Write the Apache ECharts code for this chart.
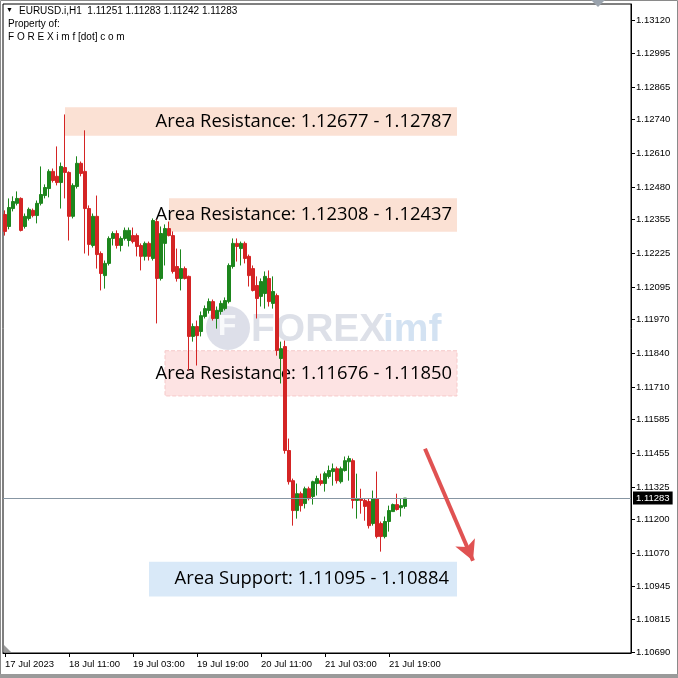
<!DOCTYPE html>
<html><head><meta charset="utf-8">
<script src="https://cdn.jsdelivr.net/npm/echarts@6/dist/echarts.min.js"></script>
<style>html,body{margin:0;padding:0;background:#fff}#c{width:678px;height:678px}</style>
</head><body><div id="c"></div>
<script>
// ---------- data ----------
const symbolName = 'EURUSD.i,H1';
const barSlots = 157;                 // H1 slots visible on the axis (data fills the first 101)
const tickEvery = 16;
const tickLabels = ['17 Jul 2023','18 Jul 11:00','19 Jul 03:00','19 Jul 19:00','20 Jul 11:00','21 Jul 03:00','21 Jul 19:00'];
const yTickValues = [1.13120,1.12995,1.12865,1.12740,1.12610,1.12480,1.12355,1.12225,1.12095,1.11970,1.11840,1.11710,1.11585,1.11455,1.11325,1.11200,1.11070,1.10945,1.10815,1.10690];
const currentPrice = 1.11283;

const opens = [1.12374,1.12328,1.12397,1.12417,1.12436,1.12328,1.12359,1.12390,1.12370,1.12417,
1.12447,1.12474,1.12540,1.12521,1.12497,1.12555,1.12536,1.12367,1.12482,1.12571,
1.12540,1.12397,1.12255,1.12367,1.12224,1.12139,1.12186,1.12282,1.12301,1.12255,
1.12282,1.12274,1.12293,1.12293,1.12255,1.12213,1.12263,1.12205,1.12347,1.12128,
1.12263,1.12320,1.12293,1.12174,1.12128,1.12166,1.12136,1.11905,1.11943,1.11924,
1.11982,1.12005,1.12039,1.11974,1.12001,1.12012,1.12039,1.12174,1.12263,1.12243,
1.12263,1.12213,1.12166,1.12101,1.12059,1.12070,1.12128,1.12032,1.12062,1.11820,
1.11866,1.11466,1.11350,1.11235,1.11300,1.11262,1.11319,1.11289,1.11339,1.11350,
1.11339,1.11366,1.11385,1.11396,1.11346,1.11389,1.11423,1.11427,1.11274,1.11281,
1.11274,1.11270,1.11185,1.11281,1.11185,1.11135,1.11193,1.11231,1.11258,1.11246,
1.11251];
const closes = [1.12309,1.12401,1.12424,1.12436,1.12313,1.12367,1.12394,1.12370,1.12417,1.12451,
1.12478,1.12540,1.12505,1.12497,1.12559,1.12536,1.12367,1.12486,1.12571,1.12532,
1.12397,1.12259,1.12367,1.12220,1.12147,1.12186,1.12282,1.12301,1.12255,1.12282,
1.12313,1.12313,1.12270,1.12251,1.12213,1.12263,1.12213,1.12351,1.12128,1.12301,
1.12320,1.12293,1.12155,1.12128,1.12166,1.12128,1.11905,1.11943,1.11908,1.11985,
1.12012,1.12039,1.11974,1.12005,1.12032,1.12043,1.12178,1.12263,1.12251,1.12263,
1.12205,1.12139,1.12082,1.12051,1.12116,1.12136,1.12039,1.12078,1.11851,1.11858,
1.11466,1.11346,1.11235,1.11300,1.11254,1.11319,1.11281,1.11346,1.11358,1.11339,
1.11377,1.11389,1.11396,1.11350,1.11396,1.11427,1.11435,1.11274,1.11281,1.11274,
1.11251,1.11177,1.11281,1.11135,1.11135,1.11193,1.11235,1.11258,1.11239,1.11254,
1.11283];
const lows = [1.12293,1.12317,1.12386,1.12409,1.12309,1.12320,1.12351,1.12363,1.12340,1.12409,
1.12436,1.12440,1.12497,1.12486,1.12397,1.12436,1.12274,1.12359,1.12474,1.12521,
1.12224,1.12216,1.12247,1.12166,1.12082,1.12089,1.12178,1.12255,1.12243,1.12232,
1.12274,1.12251,1.12263,1.12213,1.12159,1.12197,1.12197,1.12197,1.11955,1.12120,
1.12178,1.12290,1.12147,1.12116,1.12082,1.12124,1.11774,1.11885,1.11793,1.11905,
1.11974,1.11993,1.11966,1.11935,1.11989,1.12005,1.12032,1.12166,1.12193,1.12178,
1.12186,1.12097,1.12078,1.11974,1.12020,1.12012,1.12020,1.12012,1.11831,1.11724,
1.11454,1.11335,1.11177,1.11204,1.11231,1.11243,1.11274,1.11258,1.11293,1.11331,
1.11308,1.11358,1.11331,1.11339,1.11339,1.11385,1.11350,1.11243,1.11204,1.11223,
1.11196,1.11166,1.11177,1.11128,1.11077,1.11128,1.11154,1.11231,1.11235,1.11212,
1.11242];
const highs = [1.12390,1.12436,1.12444,1.12463,1.12440,1.12378,1.12401,1.12397,1.12428,1.12559,
1.12490,1.12548,1.12551,1.12636,1.12574,1.12759,1.12540,1.12494,1.12598,1.12578,
1.12698,1.12409,1.12378,1.12447,1.12232,1.12197,1.12290,1.12309,1.12313,1.12290,
1.12324,1.12324,1.12324,1.12301,1.12263,1.12270,1.12270,1.12359,1.12355,1.12328,
1.12336,1.12347,1.12309,1.12243,1.12240,1.12174,1.12139,1.11955,1.11966,1.12001,
1.12024,1.12051,1.12047,1.12020,1.12043,1.12055,1.12186,1.12282,1.12282,1.12270,
1.12270,1.12220,1.12178,1.12136,1.12128,1.12155,1.12159,1.12136,1.12070,1.11885,
1.11889,1.11512,1.11358,1.11339,1.11308,1.11327,1.11327,1.11350,1.11369,1.11377,
1.11385,1.11408,1.11416,1.11404,1.11404,1.11443,1.11446,1.11435,1.11377,1.11319,
1.11281,1.11281,1.11312,1.11385,1.11193,1.11212,1.11254,1.11262,1.11300,1.11281,
1.11283];

const zoneTexts  = ['Area Resistance: 1.12677 - 1.12787','Area Resistance: 1.12308 - 1.12437','Area Resistance: 1.11676 - 1.11850','Area Support: 1.11095 - 1.10884'];
const zoneTops   = [1.12787, 1.12437, 1.11850, 1.11038];
const zoneBottoms= [1.12677, 1.12308, 1.11676, 1.10904];
const arrowFrom = [105, 1.11473];
const arrowTo   = [117, 1.11042];

// ---------- build ----------
const categories = Array.from({length: barSlots}, (_, i) => String(i));
const ohlc = opens.map((o, i) => [o, closes[i], lows[i], highs[i]]);
const last = opens.length - 1;
const zoneStarts = [15, 41, 40, 36];
const zoneEnd = 113;
const zoneFills = ['#fbe1d4', '#fbe1d4', '#fde3e3', '#d9e9f8'];
const zoneTextPad = [5, 5, 5, 8];

const showTick = (idx) => idx % tickEvery === 0 && idx / tickEvery < tickLabels.length;
const fontAxis = 'Liberation Sans';

const chart = echarts.init(document.getElementById('c'), null, {renderer: 'canvas'});
chart.setOption({
  animation: false,
  backgroundColor: '#ffffff',
  grid: {left: 3, right: 47, top: 4, bottom: 25, show: true, borderColor: '#000', borderWidth: 1, backgroundColor: 'transparent'},
  xAxis: {
    type: 'category', data: categories, boundaryGap: true,
    axisLine: {show: true, lineStyle: {color: '#000', width: 1}},
    axisTick: {show: true, alignWithLabel: true, interval: showTick, length: 4, lineStyle: {color: '#000'}},
    axisLabel: {interval: showTick, align: 'left', margin: 6, color: '#000', fontFamily: fontAxis, fontSize: 9.5,
      formatter: (v) => tickLabels[Math.round(Number(v) / tickEvery)]},
    splitLine: {show: false}
  },
  yAxis: {
    type: 'value', position: 'right', min: 1.10687, max: 1.13184, scale: true,
    splitLine: {show: false},
    axisLine: {show: true, lineStyle: {color: '#000'}},
    axisTick: {show: true, length: 4, customValues: yTickValues, lineStyle: {color: '#000'}},
    axisLabel: {customValues: yTickValues, formatter: v => v.toFixed(5), color: '#000', fontFamily: fontAxis, fontSize: 9.5, margin: 5}
  },
  series: [
    {
      type: 'line', data: [], z: 1, silent: true,
      markArea: {silent: true,
        data: zoneTexts.map((t, k) => [
          {xAxis: zoneStarts[k], yAxis: zoneTops[k], itemStyle: {color: zoneFills[k], borderColor: k === 2 ? '#f6c9c9' : 'transparent', borderWidth: k === 2 ? 1 : 0, borderType: 'dashed'}},
          {xAxis: zoneEnd, yAxis: zoneBottoms[k]}
        ]),
        label: {show: false}
      },
      markLine: {silent: true, symbol: ['none', 'none'], precision: 5,
        data: [{yAxis: currentPrice}],
        lineStyle: {color: '#8796a3', width: 1, type: 'solid'},
        label: {position: 'end', formatter: currentPrice.toFixed(5), backgroundColor: '#000', color: '#fff', padding: [2, 3, 1, 3], fontFamily: fontAxis, fontSize: 9.5, distance: 2}
      }
    },
    {
      type: 'candlestick', name: symbolName, data: ohlc, z: 3, barWidth: 3, silent: true,
      itemStyle: {color: '#1d861d', color0: '#d42424', borderColor: '#1d861d', borderColor0: '#d42424', borderWidth: 1}
    },
    {
      type: 'line', data: [], z: 5, silent: true,
      markArea: {silent: true,
        data: zoneTexts.map((t, k) => [
          {xAxis: zoneStarts[k], yAxis: zoneTops[k], name: t, itemStyle: {color: 'transparent'},
           label: {show: true, position: 'insideRight', distance: zoneTextPad[k], formatter: t, color: '#000', fontFamily: 'Open Sans', fontSize: 18.4}},
          {xAxis: zoneEnd, yAxis: zoneBottoms[k]}
        ])
      },
      markLine: {silent: true, symbol: ['none', 'arrow'], symbolSize: [16, 20], precision: 5,
        lineStyle: {color: '#e05252', width: 4, type: 'solid'},
        label: {show: false},
        data: [[{coord: arrowFrom}, {coord: arrowTo}]]
      }
    }
  ],
  graphic: [
    {type: 'rect', shape: {x: 0.5, y: 0.5, width: 677, height: 677}, style: {fill: 'none', stroke: '#8a8a8a', lineWidth: 1}, silent: true},
    {type: 'rect', shape: {x: 0, y: 674, width: 678, height: 4}, style: {fill: '#9a9a9a'}, silent: true},
    {type: 'polygon', shape: {points: [[591, 0], [605, 0], [598, 7]]}, style: {fill: '#9aa3ad'}, silent: true},
    {type: 'polygon', shape: {points: [[4, 645], [4, 652], [11, 652]]}, style: {fill: '#9a9a9a'}, silent: true},
    {type: 'text', left: 6, top: 7, style: {text: '▼', fontSize: 7, fill: '#000'}},
    {type: 'text', left: 19, top: 6, style: {text: symbolName + '  ' + [opens[last], highs[last], lows[last], closes[last]].map(v => v.toFixed(5)).join(' '), fontFamily: fontAxis, fontSize: 10, fill: '#000'}},
    {type: 'text', left: 8, top: 19, style: {text: 'Property of:', fontFamily: fontAxis, fontSize: 10, fill: '#000'}},
    {type: 'text', left: 8, top: 32, style: {text: 'F O R E X i m f [dot] c o m', fontFamily: fontAxis, fontSize: 10, fill: '#000'}},
    // watermark
    {type: 'group', silent: true, z: 2, children: [
      {type: 'circle', shape: {cx: 228, cy: 328, r: 22}, style: {fill: 'rgba(170,176,200,0.4)'}},
      {type: 'text', x: 218, y: 312, style: {text: 'F', fontFamily: 'Liberation Sans', fontWeight: 'bold', fontSize: 30, fill: 'rgba(255,255,255,0.8)'}},
      {type: 'text', x: 251, y: 311, style: {text: 'FOREX', fontFamily: 'Liberation Sans', fontWeight: 'bold', fontSize: 39, fill: 'rgba(175,180,200,0.42)'}},
      {type: 'text', x: 383, y: 311, style: {text: 'imf', fontFamily: 'Liberation Sans', fontWeight: 'bold', fontSize: 39, fill: 'rgba(150,185,225,0.42)'}},
      {type: 'text', x: 262, y: 351, style: {text: 'T R A D I N G   L I K E   A   P R O', fontFamily: 'Liberation Sans', fontSize: 9, fill: 'rgba(180,185,205,0.4)'}}
    ]}
  ]
});
</script></body></html>
